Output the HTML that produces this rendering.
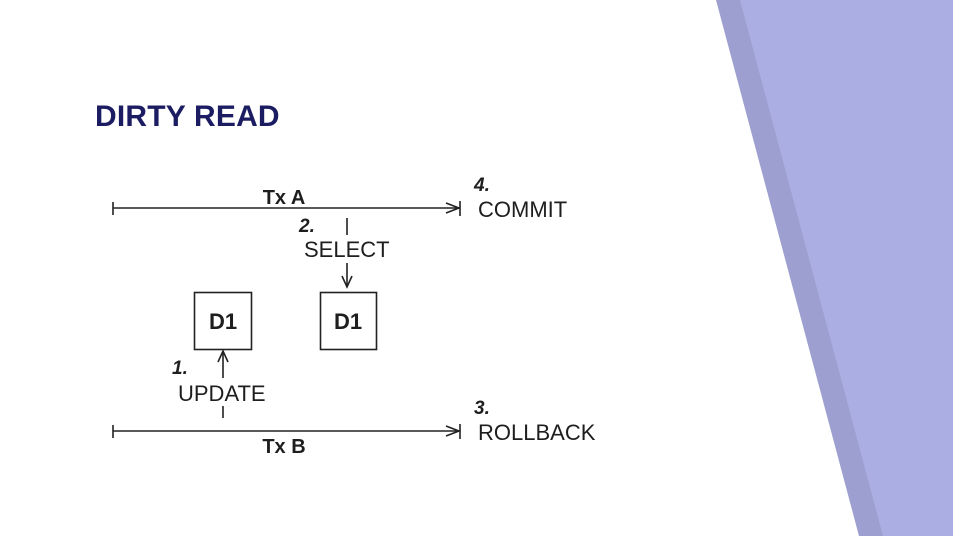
<!DOCTYPE html>
<html><head><meta charset="utf-8"><style>
html,body{margin:0;padding:0;background:#fff;}
body{width:953px;height:536px;overflow:hidden;position:relative;}
</style></head><body>
<svg width="953" height="536" viewBox="0 0 953 536" style="position:absolute;left:0;top:0">
<polygon points="716,0 953,0 953,536 859,536" fill="#9c9fcf"/>
<polygon points="740,0 953,0 953,536 883,536" fill="#abaee3"/>
<text x="95" y="126" font-family="Liberation Sans, sans-serif" font-weight="bold" font-size="30" fill="#1c1c62" letter-spacing="0.2">DIRTY READ</text>
<g font-family="Liberation Sans, sans-serif" fill="#1e1e1e" stroke="none">
<text x="284" y="204" font-weight="bold" font-size="20" text-anchor="middle">Tx A</text>
<text x="284" y="453" font-weight="bold" font-size="20" text-anchor="middle">Tx B</text>
<text x="474" y="191" font-weight="bold" font-style="italic" font-size="19">4.</text>
<text x="478" y="217" font-size="22">COMMIT</text>
<text x="474" y="414" font-weight="bold" font-style="italic" font-size="19">3.</text>
<text x="478" y="440" font-size="22">ROLLBACK</text>
<text x="299" y="232" font-weight="bold" font-style="italic" font-size="19">2.</text>
<text x="304" y="257" font-size="22">SELECT</text>
<text x="172" y="374" font-weight="bold" font-style="italic" font-size="19">1.</text>
<text x="178" y="401" font-size="22">UPDATE</text>
<text x="223" y="329" font-weight="bold" font-size="22" text-anchor="middle">D1</text>
<text x="348" y="329" font-weight="bold" font-size="22" text-anchor="middle">D1</text>
</g>
<g stroke="#222" stroke-width="1.6" fill="none">
<line x1="113" y1="208" x2="459" y2="208"/>
<line x1="113" y1="202" x2="113" y2="215"/>
<line x1="460" y1="201" x2="460" y2="216"/>
<polyline points="446,203 459,208 446,213"/>
<line x1="113" y1="431" x2="459" y2="431"/>
<line x1="113" y1="425" x2="113" y2="438"/>
<line x1="460" y1="424" x2="460" y2="439"/>
<polyline points="446,426 459,431 446,436"/>
<line x1="347" y1="218" x2="347" y2="235"/>
<line x1="347" y1="263" x2="347" y2="287"/>
<polyline points="342,276 347,287 352,276"/>
<rect x="194.5" y="292.5" width="57" height="57"/>
<rect x="320.5" y="292.5" width="56" height="57"/>
<line x1="223" y1="351" x2="223" y2="378"/>
<polyline points="218,362 223,351 228,362"/>
<line x1="223" y1="406" x2="223" y2="418"/>
</g>
</svg>
</body></html>
